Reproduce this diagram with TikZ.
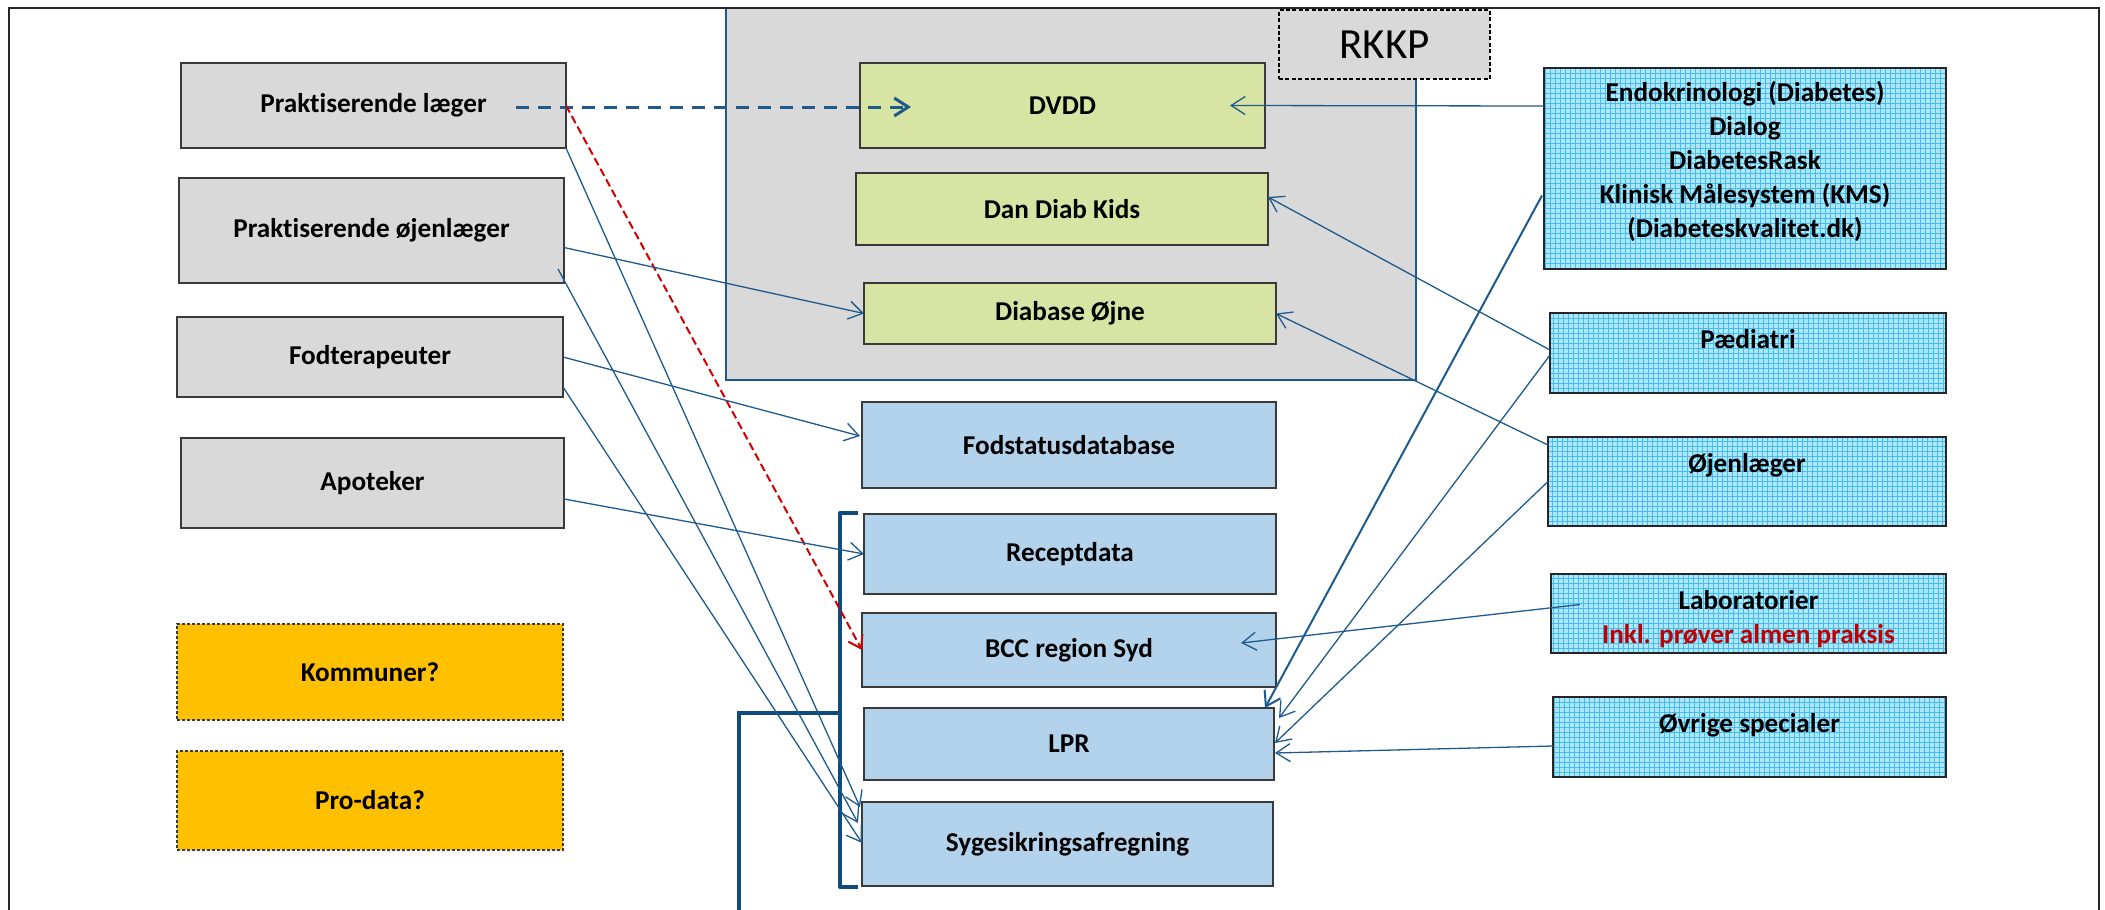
\documentclass[tikz,border=0pt]{standalone}
\usepackage{fontspec}
\setmainfont{Carlito}[Ligatures=NoCommon]
\usetikzlibrary{arrows.meta,calc}
\definecolor{grayf}{HTML}{D9D9D9}
\definecolor{grayd}{HTML}{3A3A3A}
\definecolor{greenf}{RGB}{216,228,163}
\definecolor{bluef}{HTML}{B3D3EC}
\definecolor{cyanf}{HTML}{AEE6FB}
\definecolor{cyang}{HTML}{45BCEB}
\definecolor{orangef}{HTML}{FFC000}
\definecolor{lineb}{HTML}{1F5A8C}
\definecolor{brb}{HTML}{0F4C7D}
\definecolor{labred}{HTML}{C00000}
\definecolor{reddash}{HTML}{D00000}
\newcommand{\mkbox}[7]{\node[#1, minimum width={(#5-#3)*0.5pt}, minimum height={(#6-#4)*0.5pt}] (#2) at ({(#3+#5)/2},{(#4+#6)/2}) {#7};}
\begin{document}
\begin{tikzpicture}[x=0.5pt,y=-0.5pt,
  base/.style={rectangle, inner sep=0pt, outer sep=0pt, font=\bfseries\fontsize{13.6}{17}\selectfont, align=center, text=black},
  graybox/.style={base, fill=grayf, draw=grayd, line width=0.8pt},
  greenbox/.style={base, fill=greenf, draw=grayd, line width=0.8pt},
  bluebox/.style={base, fill=bluef, draw=grayd, line width=0.8pt},
  orangebox/.style={base, fill=orangef, draw=grayd, line width=0.6pt, dash pattern=on 1.5pt off 1pt},
  cyanbox/.style={base, fill=cyanf, draw=black!85, line width=0.9pt,
    path picture={\draw[cyang, line width=0.3pt] (path picture bounding box.south west) grid[step=2.5pt] (path picture bounding box.north east);}},
  toplabel/.style={anchor=base, yshift=-17.5pt, inner sep=0pt, font=\bfseries\fontsize{13.6}{17}\selectfont, align=center},
  container/.style={rectangle, fill=grayf, draw=lineb, line width=1.2pt},
  rkkpbox/.style={rectangle, fill=grayf, draw=black, line width=0.75pt, dash pattern=on 2pt off 1.2pt, font=\fontsize{21.5}{25}\selectfont},
  frame/.style={draw=black!85, line width=1.3pt},
  conn/.style={draw=lineb, line width=0.65pt, -{Straight Barb[length=7pt,width=9pt]}},
  connthick/.style={conn, line width=1pt},
  bluedash/.style={draw=lineb, line width=1.5pt, dash pattern=on 6.5pt off 4.5pt, -{Straight Barb[length=7pt,width=9pt]}},
  reddashed/.style={draw=reddash, line width=1pt, dash pattern=on 4pt off 2pt, -{Straight Barb[length=6pt,width=8pt]}},
  bracket/.style={draw=brb, line width=2pt, line join=round},
  bracketb/.style={draw=brb, line width=2.3pt}
]
\useasboundingbox (0,0) rectangle (2105,910);
\clip (0,0) rectangle (2105,910);
% RKKP area
\mkbox{container}{rkkparea}{726}{8}{1416}{380}{}
\mkbox{rkkpbox}{rkkp}{1279}{10}{1490}{79}{RKKP}
\draw[frame] (9,1000) -- (9,8) -- (2099,8) -- (2099,1000);
% left column
\mkbox{graybox}{plaeg}{181}{63}{566}{148}{Praktiserende læger}
\mkbox{graybox}{pojen}{179}{178}{564}{283}{Praktiserende øjenlæger}
\mkbox{graybox}{fod}{177}{317}{563}{397}{Fodterapeuter}
\mkbox{graybox}{apo}{181}{438}{564}{528}{Apoteker}
\mkbox{orangebox}{komm}{177}{624}{563}{720}{Kommuner?}
\mkbox{orangebox}{prod}{177}{751}{563}{850}{Pro-data?}
% middle column
\mkbox{greenbox}{dvdd}{860}{63}{1265}{148}{DVDD}
\mkbox{greenbox}{ddk}{856}{173}{1268}{245}{Dan Diab Kids}
\mkbox{greenbox}{diab}{864}{283}{1276}{344}{Diabase Øjne}
\mkbox{bluebox}{fodst}{862}{402}{1276}{488}{Fodstatusdatabase}
\mkbox{bluebox}{rec}{864}{514}{1276}{594}{Receptdata}
\mkbox{bluebox}{bcc}{862}{613}{1276}{687}{BCC region Syd}
\mkbox{bluebox}{lpr}{864}{708}{1274}{780}{LPR}
\mkbox{bluebox}{sy}{862}{802}{1273}{886}{Sygesikringsafregning}
% right column
\mkbox{cyanbox, label={[toplabel, yshift=-67pt]north:Endokrinologi (Diabetes)\\Dialog\\DiabetesRask\\Klinisk Målesystem (KMS)\\(Diabeteskvalitet.dk)}}{endo}{1544}{68}{1946}{269}{}
\mkbox{cyanbox, label={[toplabel]north:Pædiatri}}{paed}{1550}{313}{1946}{393}{}
\mkbox{cyanbox, label={[toplabel]north:Øjenlæger}}{ojen}{1548}{437}{1946}{526}{}
\mkbox{cyanbox, label={[toplabel, yshift=-17pt]north:Laboratorier\\\textcolor{labred}{Inkl. prøver almen praksis}}}{lab}{1551}{574}{1946}{653}{}
\mkbox{cyanbox, label={[toplabel]north:Øvrige specialer}}{ovr}{1553}{697}{1946}{777}{}
% brackets
\coordinate (bt) at (858,513);
\coordinate (btl) at (840,513);
\coordinate (bbl) at (840,887);
\coordinate (bb) at (858,887);
\coordinate (bm) at (840,713);
\coordinate (bml) at (739,713);
\coordinate (bmb) at (739,940);
\draw[bracket] (bt) -- (btl) -- (bbl) -- (bb);
\draw[bracketb] (bm) -- (bml) -- (bmb);
% left connectors
\coordinate (pl1) at (516,107);
\coordinate (dv1) at (911,107);
\draw[bluedash] (pl1) -- (dv1);
\draw[reddashed] (plaeg.east) -- (bcc.west);
\draw[conn] (plaeg.south east) -- ($(sy.north west)+(-2,5)$);
\draw[conn] ($(pojen.south east)+(-6,-14)$) -- ($(sy.west)+(-4,-21)$);
\draw[conn] ($(fod.south east)+(0,-10)$) -- ($(sy.west)+(0,-1)$);
\draw[conn] ($(pojen.east)+(0,17)$) -- (diab.west);
\draw[conn] (fod.east) -- ($(fodst.west)+(-2,-9)$);
\draw[conn] ($(apo.east)+(0,16)$) -- (rec.west);
% right connectors
\draw[conn] ($(endo.north west)+(0,38)$) -- ($(dvdd.east)+(-35,0)$);
\draw[connthick] ($(endo.west)+(-2,27)$) -- ($(lpr.north east)+(-9,0)$);
\draw[conn] ($(paed.west)+(0,-3)$) -- ($(ddk.east)+(0,-12)$);
\draw[conn] ($(paed.west)+(0,2)$) -- ($(lpr.north east)+(5,10)$);
\draw[conn] ($(ojen.north west)+(0,8)$) -- (diab.east);
\draw[conn] (ojen.west) -- ($(lpr.east)+(1,-1)$);
\draw[conn] ($(lab.west)+(29,-9)$) -- ($(bcc.east)+(-35,-7)$);
\draw[conn] ($(ovr.west)+(0,9)$) -- ($(lpr.east)+(1,9)$);
\end{tikzpicture}
\end{document}
